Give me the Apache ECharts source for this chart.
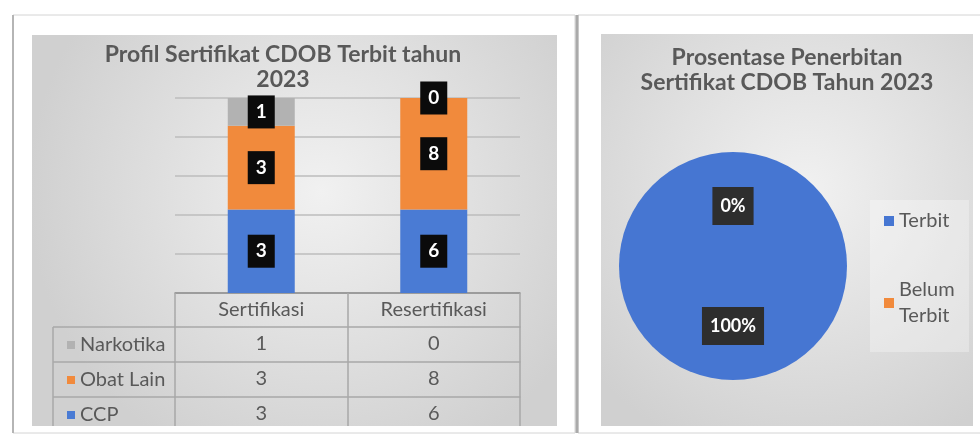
<!DOCTYPE html>
<html>
<head>
<meta charset="utf-8">
<title>Sertifikat CDOB 2023</title>
<script src="https://cdn.jsdelivr.net/npm/echarts@6/dist/echarts.min.js"></script>
<style>
  html, body { margin: 0; padding: 0; background: #ffffff; }
  #chart { width: 980px; height: 439px; }
</style>
</head>
<body>
<div id="chart"></div>
<script>
// Certificates issued in 2023, per type and per process
const categories = ['Sertifikasi', 'Resertifikasi'];
const narkotika = [1, 0];
const obatLain = [3, 8];
const ccp = [3, 6];

// Share of issued certificates (percent)
const pieNames = ['Terbit', 'Belum Terbit'];
const pieValues = [100, 0];

// Percentage gridlines of the 100% stacked columns
const shareMax = 100;
const shareStep = 20;

const FONT = 'Lato';
const TEXT_GRAY = '#595959';
const BLUE = '#4a7bd4';
const ORANGE = '#f18a3c';
const GRAY = '#b2b2b2';

// stacking order bottom -> top
const stackRows = [
  { name: 'CCP', values: ccp, color: BLUE },
  { name: 'Obat Lain', values: obatLain, color: ORANGE },
  { name: 'Narkotika', values: narkotika, color: GRAY }
];
// data table order top -> bottom
const tableRows = [
  { name: 'Narkotika', values: narkotika },
  { name: 'Obat Lain', values: obatLain },
  { name: 'CCP', values: ccp }
];

const totals = categories.map((_, i) => stackRows.reduce((s, r) => s + r.values[i], 0));

const chart = echarts.init(document.getElementById('chart'), null, { renderer: 'canvas' });

const panelFill = {
  type: 'radial', x: 0.55, y: 0.4, r: 0.75,
  colorStops: [
    { offset: 0, color: '#f1f1f1' },
    { offset: 1, color: '#d0d0d0' }
  ]
};

const tableLine = { stroke: '#a8a8a8', lineWidth: 1.5 };
const TABLE_FONT = 20;

const headerAxis = {
  type: 'category',
  data: categories,
  gridIndex: 0,
  position: 'bottom',
  offset: 0,
  axisLine: { show: true, lineStyle: { color: '#8f8f8f', width: 1.5 } },
  axisTick: { show: true, length: 34, lineStyle: { color: '#a8a8a8', width: 1.5 } },
  axisLabel: { margin: 7, fontSize: TABLE_FONT, color: TEXT_GRAY, fontFamily: FONT }
};

const rowAxes = tableRows.map((row, k) => ({
  type: 'category',
  data: categories,
  gridIndex: 0,
  position: 'bottom',
  offset: 34 + 35 * k,
  axisLine: { show: true, lineStyle: { color: '#a8a8a8', width: 1.5 } },
  axisTick: { show: true, length: k === tableRows.length - 1 ? 29 : 35, lineStyle: { color: '#a8a8a8', width: 1.5 } },
  axisLabel: {
    margin: 7, fontSize: TABLE_FONT, color: TEXT_GRAY, fontFamily: FONT,
    formatter: (value, idx) => String(row.values[idx])
  }
}));

const option = {
  animation: false,
  textStyle: { fontFamily: FONT },
  graphic: {
    elements: [
      // left card
      { type: 'rect', z: -20, shape: { x: 13, y: 15, width: 562, height: 418 },
        style: { fill: '#ffffff', stroke: '#d4d4d4', lineWidth: 1 } },
      { type: 'line', z: -19, shape: { x1: 13, y1: 15, x2: 13, y2: 433 },
        style: { stroke: '#b5b5b5', lineWidth: 2 } },
      { type: 'rect', z: -18, shape: { x: 32, y: 35, width: 525, height: 391 },
        style: { fill: panelFill } },
      // right card
      { type: 'rect', z: -20, shape: { x: 578, y: 15, width: 410, height: 418 },
        style: { fill: '#ffffff', stroke: '#d4d4d4', lineWidth: 1 } },
      { type: 'line', z: -19, shape: { x1: 577, y1: 15, x2: 577, y2: 433 },
        style: { stroke: '#aaaaaa', lineWidth: 3 } },
      { type: 'rect', z: -18, shape: { x: 601, y: 34, width: 372, height: 392 },
        style: { fill: panelFill } },
      // row-header column of the data table
      { type: 'line', shape: { x1: 53, y1: 327, x2: 175, y2: 327 }, style: tableLine },
      { type: 'line', shape: { x1: 53, y1: 362, x2: 175, y2: 362 }, style: tableLine },
      { type: 'line', shape: { x1: 53, y1: 397, x2: 175, y2: 397 }, style: tableLine },
      { type: 'line', shape: { x1: 53, y1: 327, x2: 53, y2: 426 }, style: tableLine }
    ]
  },
  title: [
    {
      text: 'Profil Sertifikat CDOB Terbit tahun\n2023',
      left: 283, top: 42, textAlign: 'center', padding: 0,
      textStyle: { fontFamily: FONT, fontSize: 23, fontWeight: 'bold', color: TEXT_GRAY, lineHeight: 25 }
    },
    {
      text: 'Prosentase Penerbitan\nSertifikat CDOB Tahun 2023',
      left: 787, top: 45, textAlign: 'center', padding: 0,
      textStyle: { fontFamily: FONT, fontSize: 23, fontWeight: 'bold', color: TEXT_GRAY, lineHeight: 25 }
    }
  ],
  legend: [
    {
      data: tableRows.map(r => r.name),
      orient: 'vertical',
      left: 62, top: 330,
      itemWidth: 8, itemHeight: 8, itemGap: 15,
      icon: 'rect', selectedMode: false,
      textStyle: { fontFamily: FONT, fontSize: TABLE_FONT, color: TEXT_GRAY }
    },
    {
      data: [
        { name: pieNames[0] },
        { name: pieNames[1], textStyle: { padding: [26, 0, 0, 0] } }
      ],
      orient: 'vertical',
      left: 870, top: 200,
      padding: [8, 4, 10, 14],
      backgroundColor: 'rgba(255,255,255,0.3)',
      itemWidth: 10, itemHeight: 10, itemGap: 30,
      icon: 'rect', selectedMode: false,
      textStyle: { fontFamily: FONT, fontSize: 20, color: TEXT_GRAY, lineHeight: 26, width: 66, overflow: 'break' }
    }
  ],
  grid: [{ left: 175, top: 98, width: 345, height: 195, containLabel: false }],
  xAxis: [headerAxis].concat(rowAxes),
  yAxis: [{
    type: 'value', gridIndex: 0,
    min: 0, max: shareMax, interval: shareStep,
    axisLine: { show: false }, axisTick: { show: false }, axisLabel: { show: false },
    splitLine: { lineStyle: { color: '#bdbdbd', width: 1.5 } }
  }],
  series: stackRows.map((row, s) => ({
    name: row.name,
    type: 'bar',
    stack: 'share',
    xAxisIndex: 0, yAxisIndex: 0,
    barWidth: 67,
    itemStyle: { color: row.color },
    emphasis: { disabled: true },
    label: {
      show: true, position: 'inside',
      formatter: p => String(row.values[p.dataIndex]),
      backgroundColor: '#0b0b0b', color: '#ffffff',
      fontFamily: FONT, fontWeight: 'bold', fontSize: 19, lineHeight: 19,
      padding: [7, 8]
    },
    data: row.values.map((v, i) => v / totals[i] * 100)
  })).concat([{
    name: 'Penerbitan',
    type: 'pie',
    center: [733, 266],
    radius: 114,
    startAngle: 90,
    clockwise: true,
    emphasis: { disabled: true },
    labelLine: { show: false },
    label: {
      show: true, position: 'inside',
      formatter: '{d}%',
      backgroundColor: '#2e2e2e', color: '#ffffff',
      fontFamily: FONT, fontWeight: 'bold', fontSize: 18, lineHeight: 18,
      padding: [10, 8]
    },
    data: pieNames.map((n, i) => ({
      name: n, value: pieValues[i],
      itemStyle: { color: i === 0 ? '#4676d2' : ORANGE }
    }))
  }])
};

chart.setOption(option);
</script>
</body>
</html>
